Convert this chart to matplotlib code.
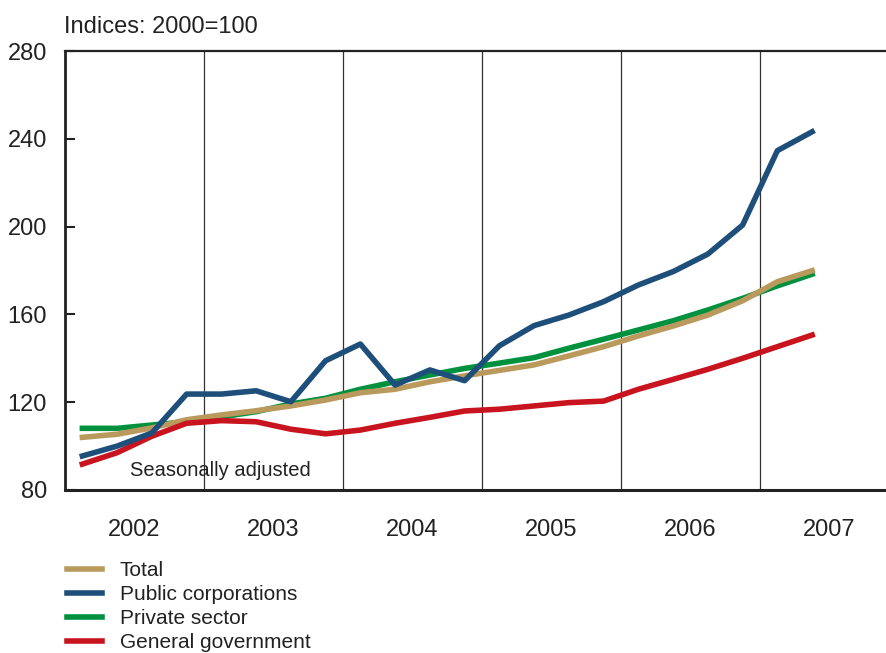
import matplotlib.pyplot as plt
import numpy as np

plt.rcParams['font.family'] = ['Liberation Sans', 'DejaVu Sans']

years = ['2002', '2003', '2004', '2005', '2006', '2007']
# quarterly, 2002 Q1 .. 2007 Q2
total = [104, 105.4, 108.3, 112, 114.2, 116.1, 118.3, 121, 124.3, 125.9, 129.3,
         132, 134.5, 137, 141.1, 145.3, 150.2, 154.7, 159.7, 166.2, 174.9, 179.9]
public_corp = [95.5, 100, 106, 123.7, 123.7, 125.2, 120.2, 138.9, 146.5, 127.8, 134.7,
               129.8, 145.7, 154.9, 159.7, 165.8, 173.4, 179.5, 187.5, 200.7, 234.6, 243.2]
private_sector = [108.1, 108.1, 109.6, 111.1, 113.3, 115.7, 119.2, 121.8, 125.9, 129.3, 132.4,
                  135.4, 137.8, 140.3, 144.6, 148.7, 152.9, 157.1, 162, 167.3, 173, 178.3]
general_gov = [91.8, 97, 104.5, 110.4, 111.6, 111.1, 107.7, 105.6, 107.3, 110.4, 113.1,
               116, 116.8, 118.3, 119.8, 120.5, 125.9, 130.4, 135, 140, 145.3, 150.6]

x = 2002 + (np.arange(len(total)) + 0.5) / 4

fig = plt.figure(figsize=(8.86, 6.53), dpi=100)
ax = fig.add_axes([65 / 886, 1 - 490 / 653, 1 - 65 / 886, (490 - 51) / 653])

fs = 15
fs_big = 17
lw = 4
txt = '#222222'
l_priv, = ax.plot(x, private_sector, color='#00913f', lw=lw, label='Private sector', zorder=3)
l_tot, = ax.plot(x, total, color='#b99a5c', lw=lw, label='Total', zorder=4)
l_gov, = ax.plot(x, general_gov, color='#c8141f', lw=lw, label='General government', zorder=5)
l_pub, = ax.plot(x, public_corp, color='#1d4f7a', lw=lw, label='Public corporations', zorder=6)

for yr in range(2003, 2008):
    ax.axvline(yr, color='#333333', lw=0.9, zorder=1)

ax.set_xlim(2002, 2002 + (886 - 65) / 139)
ax.set_ylim(80, 280)
ax.set_yticks([80, 120, 160, 200, 240, 280])
ax.set_xticks([int(y) + 0.5 for y in years])
ax.set_xticklabels(years)
ax.tick_params(axis='y', direction='in', length=7, width=1.5, labelsize=fs_big, pad=13,
               colors=txt)
ax.tick_params(axis='x', length=0, labelsize=fs_big, pad=21, colors=txt)

ax.spines['right'].set_visible(False)
ax.spines['left'].set_linewidth(2)
ax.spines['bottom'].set_linewidth(2.2)
ax.spines['top'].set_linewidth(1.6)
for s in ax.spines.values():
    s.set_color(txt)

ax.text(2002.47, 88.7, 'Seasonally adjusted', fontsize=14.5, va='center', ha='left',
        color=txt)
fig.text(64 / 886, 1 - 27 / 653, 'Indices: 2000=100', fontsize=fs_big, va='center',
         ha='left', color=txt)

fig.legend(handles=[l_tot, l_pub, l_priv, l_gov], loc='upper left',
           bbox_to_anchor=(67 / 886, 1 - 561 / 653), frameon=False, fontsize=fs,
           handlelength=1.68, handletextpad=0.86, labelspacing=0.24, borderpad=0,
           borderaxespad=0, labelcolor=txt)

fig.savefig('out.png', dpi=100)
